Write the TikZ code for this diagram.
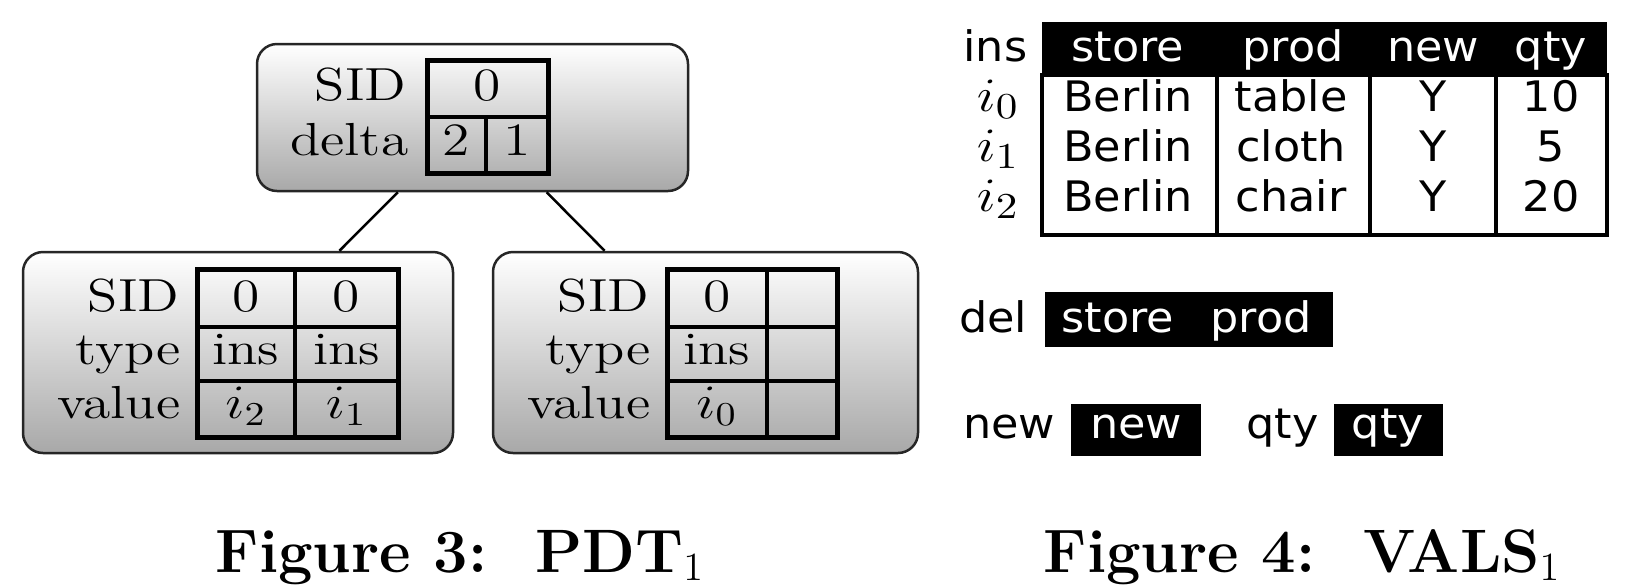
\documentclass[tikz,border=0pt]{standalone}
\usepackage{fontspec}
\usepackage{graphicx}
\newfontfamily\dejavu{DejaVu Sans}
\newcommand\serT[1]{\scalebox{1.2}[1]{\fontsize{13.9}{16}\selectfont #1}}
\newcommand\serB[1]{\scalebox{1.18}[1]{\fontsize{15.3}{17}\selectfont #1}}
\newcommand\sanT[1]{\scalebox{1.06}[1]{\fontsize{12.6}{14}\selectfont\dejavu #1}}
\tikzset{
  pbox/.style={draw=black!85, line width=0.75pt, rounded corners=6pt,
    top color=white, bottom color=black!34, inner sep=0pt},
  lab/.style={anchor=base east, inner sep=0pt},
  cell/.style={anchor=base, inner sep=0pt},
  outerline/.style={line width=1.5pt},
  innerline/.style={line width=1.05pt},
  rline/.style={line width=1.2pt},
  blk/.style={fill=black, draw=none},
  wtxt/.style={anchor=base, inner sep=0pt, text=white},
  figcap/.style={anchor=base west, inner sep=0pt, font=\fontsize{18.4}{22}\selectfont\bfseries}
}
\begin{document}
\begin{tikzpicture}[x=0.3pt, y=-0.3pt]
\useasboundingbox (0,0) rectangle (1644,584);

% ---------------- PDT tree ----------------
\node[pbox, minimum width=129.3pt, minimum height=44.1pt] (top) at (472.5,117.5) {};
\node[pbox, minimum width=129pt, minimum height=60.3pt] (left) at (238,352.5) {};
\node[pbox, minimum width=127.5pt, minimum height=60.3pt] (right) at (705.5,352.5) {};
\draw[line width=0.75pt] (top) -- (left);
\draw[line width=0.75pt] (top) -- (right);

% top node table
\draw[innerline] (427,117) -- (548,117);
\draw[innerline] (486,117) -- (486,173);
\draw[outerline] (427,60) rectangle (548,173);
\node[lab] (tsid) at (407,100) {\serT{SID}};
\node[lab] (tdel) at (409,155) {\serT{delta}};
\node[cell] (t0) at (487.5,100) {\serT{0}};
\node[cell] (t2) at (456.5,155) {\serT{2}};
\node[cell] (t1) at (517,155) {\serT{1}};

% left child table
\draw[innerline] (295,269) -- (295,437);
\draw[innerline] (197,327) -- (398,327);
\draw[innerline] (197,381) -- (398,381);
\draw[outerline] (197,269) rectangle (398,437);
\node[lab] (lsid) at (180,311) {\serT{SID}};
\node[lab] (ltyp) at (181,364) {\serT{type}};
\node[lab] (lval) at (181,418) {\serT{value}};
\node[cell] (la1) at (246,311) {\serT{0}};
\node[cell] (la2) at (346.5,311) {\serT{0}};
\node[cell] (lb1) at (246,364) {\serT{ins}};
\node[cell] (lb2) at (346.5,364) {\serT{ins}};
\node[cell] (lc1) at (246,418) {\serT{$i_2$}};
\node[cell] (lc2) at (346.5,418) {\serT{$i_1$}};

% right child table
\draw[innerline] (767,269) -- (767,437);
\draw[innerline] (667,327) -- (837,327);
\draw[innerline] (667,381) -- (837,381);
\draw[outerline] (667,269) rectangle (837,437);
\node[lab] (rsid) at (650,311) {\serT{SID}};
\node[lab] (rtyp) at (651,364) {\serT{type}};
\node[lab] (rval) at (651,418) {\serT{value}};
\node[cell] (ra1) at (717,311) {\serT{0}};
\node[cell] (rb1) at (717,364) {\serT{ins}};
\node[cell] (rc1) at (717,418) {\serT{$i_0$}};

\node[figcap] (cap3) at (215,572) {Figure 3:\hspace{0.78em}PDT$_1$};

% ---------------- VALS ----------------
\fill[blk] (1042,22) rectangle (1607,75);
\draw[rline] (1217,75) -- (1217,235);
\draw[rline] (1370,75) -- (1370,235);
\draw[rline] (1496,75) -- (1496,235);
\draw[rline] (1042,75) rectangle (1607,235);
\node[lab] (ins) at (1028,61) {\sanT{ins}};
\node[wtxt] (hs) at (1128,61) {\sanT{store}};
\node[wtxt] (hp) at (1293,61) {\sanT{prod}};
\node[wtxt] (hn) at (1433,61) {\sanT{new}};
\node[wtxt] (hq) at (1551,61) {\sanT{qty}};

\node[lab] (i0) at (1020,111) {\serB{$i_0$}};
\node[lab] (i1) at (1020,161) {\serB{$i_1$}};
\node[lab] (i2) at (1020,211) {\serB{$i_2$}};
\node[cell] (b0) at (1128,111) {\sanT{Berlin}};
\node[cell] (b1) at (1128,161) {\sanT{Berlin}};
\node[cell] (b2) at (1128,211) {\sanT{Berlin}};
\node[cell] (p0) at (1291,111) {\sanT{table}};
\node[cell] (p1) at (1291,161) {\sanT{cloth}};
\node[cell] (p2) at (1291,211) {\sanT{chair}};
\node[cell] (n0) at (1433,111) {\sanT{Y}};
\node[cell] (n1) at (1433,161) {\sanT{Y}};
\node[cell] (n2) at (1433,211) {\sanT{Y}};
\node[cell] (q0) at (1551,111) {\sanT{10}};
\node[cell] (q1) at (1551,161) {\sanT{5}};
\node[cell] (q2) at (1551,211) {\sanT{20}};

% del
\node[lab] (del) at (1028,332) {\sanT{del}};
\fill[blk] (1045,292) rectangle (1333,347);
\node[wtxt] (ds) at (1118,332) {\sanT{store}};
\node[wtxt] (dp) at (1261,332) {\sanT{prod}};

% new / qty
\node[lab] (newl) at (1056,438) {\sanT{new}};
\fill[blk] (1071,404) rectangle (1201,456);
\node[wtxt] (neww) at (1136,438) {\sanT{new}};
\node[lab] (qtyl) at (1319,438) {\sanT{qty}};
\fill[blk] (1334,404) rectangle (1443,456);
\node[wtxt] (qtyw) at (1388,438) {\sanT{qty}};

\node[figcap] (cap4) at (1043,572) {Figure 4:\hspace{0.78em}VALS$_1$};
\end{tikzpicture}
\end{document}
